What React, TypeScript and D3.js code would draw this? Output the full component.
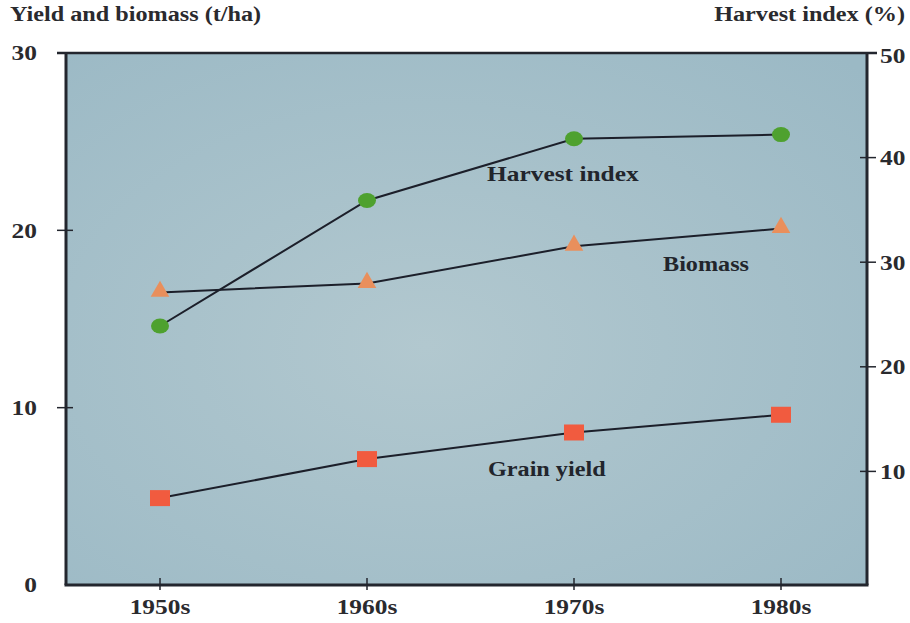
import React from "react";
import * as d3 from "d3";

const categories = ["1950s", "1960s", "1970s", "1980s"];
const grainYield = [4.9, 7.1, 8.6, 9.6];
const biomass = [16.5, 17.0, 19.1, 20.1];
const harvestIndex = [23.9, 35.9, 41.8, 42.2];
const leftTicks = [0, 10, 20, 30];
const rightTicks = [10, 20, 30, 40, 50];

const W = 910;
const H = 623;
const plotL = 66;
const plotR = 867;
const plotT = 53;
const plotB = 585;

const FONT = "'Liberation Serif', 'Times New Roman', serif";
const SX = 1.21;

function T(props: {
  x: number;
  y: number;
  anchor?: "start" | "middle" | "end";
  size?: number;
  dy?: string;
  fill?: string;
  children: React.ReactNode;
}) {
  const { x, y, anchor = "start", size = 21, dy, fill = "#2a2a2e", children } = props;
  return (
    <text
      transform={`translate(${x},${y}) scale(${SX},1)`}
      x={0}
      y={0}
      dy={dy}
      textAnchor={anchor}
      fontFamily={FONT}
      fontWeight="bold"
      fontSize={size}
      fill={fill}
    >
      {children}
    </text>
  );
}

export default function App() {
  const x = d3.scaleLinear().domain([0, 3]).range([160, 781]);
  const yL = d3.scaleLinear().domain([0, 30]).range([plotB, plotT]);
  const yR = d3.scaleLinear().domain([0, 50]).range([576, plotT]);

  const lineL = d3
    .line<number>()
    .x((_, i) => x(i))
    .y((d) => yL(d));
  const lineR = d3
    .line<number>()
    .x((_, i) => x(i))
    .y((d) => yR(d));

  const tri = d3.symbol().type(d3.symbolTriangle).size(150)();

  return (
    <div style={{ position: "absolute", left: 0, top: 0 }}>
      <svg width={W} height={H} style={{ display: "block", background: "#fff" }}>
        <defs>
          <radialGradient id="bg" cx="0.45" cy="0.55" r="0.75">
            <stop offset="0%" stopColor="#b2c8cf" />
            <stop offset="100%" stopColor="#9bb9c5" />
          </radialGradient>
        </defs>
        <rect
          x={plotL}
          y={plotT}
          width={plotR - plotL}
          height={plotB - plotT}
          fill="url(#bg)"
        />
        {/* frame */}
        <line x1={plotL} y1={plotT} x2={plotL} y2={plotB} stroke="#23262e" strokeWidth={3} />
        <line x1={plotL - 1.5} y1={plotB} x2={plotR + 1.5} y2={plotB} stroke="#23262e" strokeWidth={3} />
        <line x1={plotR} y1={plotT} x2={plotR} y2={plotB} stroke="#23262e" strokeWidth={3} />
        <line x1={plotL - 9} y1={plotT} x2={plotR + 10} y2={plotT} stroke="#23262e" strokeWidth={2.5} />

        {/* left ticks */}
        {leftTicks.filter((t) => t > 0 && t < 30).map((t) => (
          <line key={"lt" + t} x1={plotL - 9} x2={plotL + 7} y1={yL(t)} y2={yL(t)} stroke="#23262e" strokeWidth={1.5} />
        ))}
        {/* right ticks */}
        {rightTicks.filter((t) => t < 50).map((t) => (
          <line key={"rt" + t} x1={plotR - 7} x2={plotR + 9} y1={yR(t)} y2={yR(t)} stroke="#23262e" strokeWidth={1.5} />
        ))}
        {/* bottom ticks */}
        {categories.map((c, i) => (
          <line key={"bt" + c} x1={x(i)} x2={x(i)} y1={plotB - 7} y2={plotB + 5} stroke="#23262e" strokeWidth={1.5} />
        ))}

        {/* left tick labels */}
        {leftTicks.map((t) => (
          <T key={"ll" + t} x={37} y={yL(t)} dy="0.35em" anchor="end">
            {t}
          </T>
        ))}
        {/* right tick labels */}
        {rightTicks.map((t) => (
          <T key={"rl" + t} x={880} y={yR(t) + (t === 50 ? 3 : 0)} dy="0.35em">
            {t}
          </T>
        ))}
        {/* x labels */}
        {categories.map((c, i) => (
          <T key={"xl" + c} x={x(i)} y={614} anchor="middle">
            {c}
          </T>
        ))}

        {/* axis titles */}
        <T x={10} y={21} size={20}>
          Yield and biomass (t/ha)
        </T>
        <T x={905} y={21} size={20} anchor="end">
          Harvest index (%)
        </T>

        {/* lines */}
        <path d={lineR(harvestIndex) || ""} fill="none" stroke="#1c1f2a" strokeWidth={2} />
        <path d={lineL(biomass) || ""} fill="none" stroke="#1c1f2a" strokeWidth={2} />
        <path d={lineL(grainYield) || ""} fill="none" stroke="#1c1f2a" strokeWidth={2} />

        {/* markers */}
        {harvestIndex.map((v, i) => (
          <ellipse key={"hi" + i} cx={x(i)} cy={yR(v)} rx={9} ry={7.5} fill="#4ea12f" />
        ))}
        {biomass.map((v, i) => (
          <path key={"bm" + i} d={tri || ""} transform={`translate(${x(i)},${yL(v) - 1})`} fill="#e98f5c" />
        ))}
        {grainYield.map((v, i) => (
          <rect key={"gy" + i} x={x(i) - 10} y={yL(v) - 8} width={20} height={16} fill="#f15b3f" />
        ))}

        {/* series labels */}
        <T x={487} y={181} size={21} fill="#22252c">
          Harvest index
        </T>
        <T x={663} y={271} size={20} fill="#22252c">
          Biomass
        </T>
        <T x={488} y={476} size={20} fill="#22252c">
          Grain yield
        </T>
      </svg>
    </div>
  );
}
